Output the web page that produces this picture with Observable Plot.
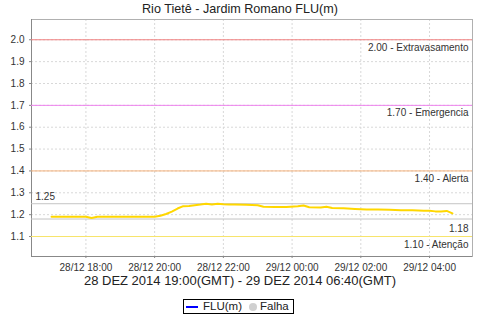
<!DOCTYPE html>
<html><head><meta charset="utf-8">
<script src="https://cdn.jsdelivr.net/npm/d3@7"></script>
<script src="https://cdn.jsdelivr.net/npm/@observablehq/plot@0.6"></script>
<style>
body{margin:0;background:#fff;font-family:"Liberation Sans",Arial,sans-serif;}
#c{position:relative;width:480px;height:320px;overflow:hidden;background:#fff}
#title{position:absolute;top:0;left:0;width:480px;height:18px;line-height:18px;text-align:center;font-size:12.6px;color:#222}
#chart{position:absolute;top:18px;left:0}
#xlabel{position:absolute;top:273px;left:0;width:480px;text-align:center;font-size:13px;line-height:16px;color:#222}
#legend{position:absolute;left:183px;top:299px;width:109px;height:13px;border:1px solid #000;font-size:11.5px;color:#222}
#legend .ln{position:absolute;left:2px;top:6px;width:12px;height:2px;background:#0000ff}
#legend .t1{position:absolute;left:19px;top:-1px;line-height:15px}
#legend .dot{position:absolute;left:65px;top:3px;width:8px;height:8px;border-radius:50%;background:#d0d0d0}
#legend .t2{position:absolute;left:76px;top:-1px;line-height:15px}
</style>
</head><body>
<div id="c">
  <div id="title">Rio Tietê - Jardim Romano FLU(m)</div>
  <div id="chart"></div>
  <div id="xlabel">28 DEZ 2014 19:00(GMT) - 29 DEZ 2014 06:40(GMT)</div>
  <div id="legend"><span class="ln"></span><span class="t1">FLU(m)</span><span class="dot"></span><span class="t2">Falha</span></div>
</div>
<script>
// Data (local time, GMT-2)
const times = [
  "2014-12-28 17:00","2014-12-28 17:20","2014-12-28 17:40","2014-12-28 18:00","2014-12-28 18:10",
  "2014-12-28 18:20","2014-12-28 18:40","2014-12-28 19:00","2014-12-28 19:20","2014-12-28 19:40",
  "2014-12-28 20:00","2014-12-28 20:10","2014-12-28 20:20","2014-12-28 20:30","2014-12-28 20:40",
  "2014-12-28 20:50","2014-12-28 21:00","2014-12-28 21:10","2014-12-28 21:20","2014-12-28 21:30",
  "2014-12-28 21:40","2014-12-28 21:50","2014-12-28 22:00","2014-12-28 22:10","2014-12-28 22:20",
  "2014-12-28 22:40","2014-12-28 23:00","2014-12-28 23:10","2014-12-28 23:30","2014-12-28 23:50",
  "2014-12-29 00:10","2014-12-29 00:20","2014-12-29 00:30","2014-12-29 00:50","2014-12-29 01:00",
  "2014-12-29 01:10","2014-12-29 01:30","2014-12-29 01:50","2014-12-29 02:10","2014-12-29 02:30",
  "2014-12-29 02:50","2014-12-29 03:10","2014-12-29 03:30","2014-12-29 03:50","2014-12-29 04:00",
  "2014-12-29 04:10","2014-12-29 04:20","2014-12-29 04:30","2014-12-29 04:40"
];
const levels = [
  1.19,1.19,1.19,1.19,1.185,
  1.19,1.19,1.19,1.19,1.19,
  1.19,1.195,1.203,1.214,1.228,
  1.239,1.240,1.243,1.246,1.250,
  1.247,1.250,1.248,1.247,1.246,
  1.245,1.243,1.236,1.235,1.235,
  1.238,1.242,1.234,1.233,1.236,
  1.230,1.229,1.226,1.224,1.224,
  1.222,1.220,1.220,1.218,1.218,
  1.215,1.215,1.217,1.206
];
const thresholdValues = [2.0, 1.7, 1.4, 1.1];
const thresholdLabels = ["2.00 - Extravasamento", "1.70 - Emergencia", "1.40 - Alerta", "1.10 - Atenção"];
const thresholdColors = ["#f08080", "#ee82ee", "#f4b27c", "#f7e46a"];
const refTop = 1.25, refBottom = 1.18;
const xTickLabels = ["2014-12-28 18:00","2014-12-28 20:00","2014-12-28 22:00","2014-12-29 00:00","2014-12-29 02:00","2014-12-29 04:00"];
const yTicks = [1.1,1.2,1.3,1.4,1.5,1.6,1.7,1.8,1.9,2.0];
const xDomainLabels = ["2014-12-28 16:25","2014-12-29 05:15"];
const yDomain = [1.0086, 2.0927];

const parse = d3.utcParse("%Y-%m-%d %H:%M");
const data = times.map((t,i) => ({t: parse(t), v: levels[i]}));
const xTicks = xTickLabels.map(parse);
const xDomain = xDomainLabels.map(parse);

const gridStyle = {stroke: "#d8d8d8", strokeOpacity: 1, strokeDasharray: "2,2"};
const chart = Plot.plot({
  width: 480, height: 258,
  marginLeft: 31, marginRight: 8, marginTop: 1, marginBottom: 20,
  style: {fontFamily: "'Liberation Sans', Arial, sans-serif", fontSize: "10px", color: "#333", background: "white", overflow: "visible"},
  x: {type: "utc", domain: xDomain},
  y: {domain: yDomain},
  marks: [
    Plot.gridX(xTicks, gridStyle),
    Plot.gridY(yTicks, gridStyle),
    Plot.frame({stroke: "#b0b0b0"}),
    Plot.ruleX([xDomain[0]], {stroke: "#888"}),
    Plot.ruleY([yDomain[0]], {stroke: "#888"}),
    Plot.axisX(xTicks, {tickFormat: d3.utcFormat("%d/%m %H:%M"), tickSize: 2, tickPadding: 5, stroke: "#888", fill: "#333", label: null}),
    Plot.axisY(yTicks, {tickFormat: d3.format(".1f"), tickSize: 2, tickPadding: 5, stroke: "#888", fill: "#333", label: null}),
    ...thresholdValues.map((v,i) => Plot.ruleY([v], {stroke: thresholdColors[i]})),
    Plot.ruleY([refTop, refBottom], {stroke: "#c4c4c4"}),
    Plot.text(thresholdValues, {y: d => d, text: (d,i) => thresholdLabels[i], frameAnchor: "right", textAnchor: "end", lineAnchor: "top", dx: -4, dy: 4, fill: "#333"}),
    Plot.text([refTop], {y: d => d, text: d => d.toFixed(2), frameAnchor: "left", textAnchor: "start", lineAnchor: "bottom", dx: 4, dy: -4, fill: "#333"}),
    Plot.text([refBottom], {y: d => d, text: d => d.toFixed(2), frameAnchor: "right", textAnchor: "end", lineAnchor: "top", dx: -4, dy: 6, fill: "#333"}),
    Plot.line(data, {x: "t", y: "v", stroke: "#ffd700", strokeWidth: 2})
  ]
});
document.getElementById("chart").appendChild(chart);
</script>
</body></html>
